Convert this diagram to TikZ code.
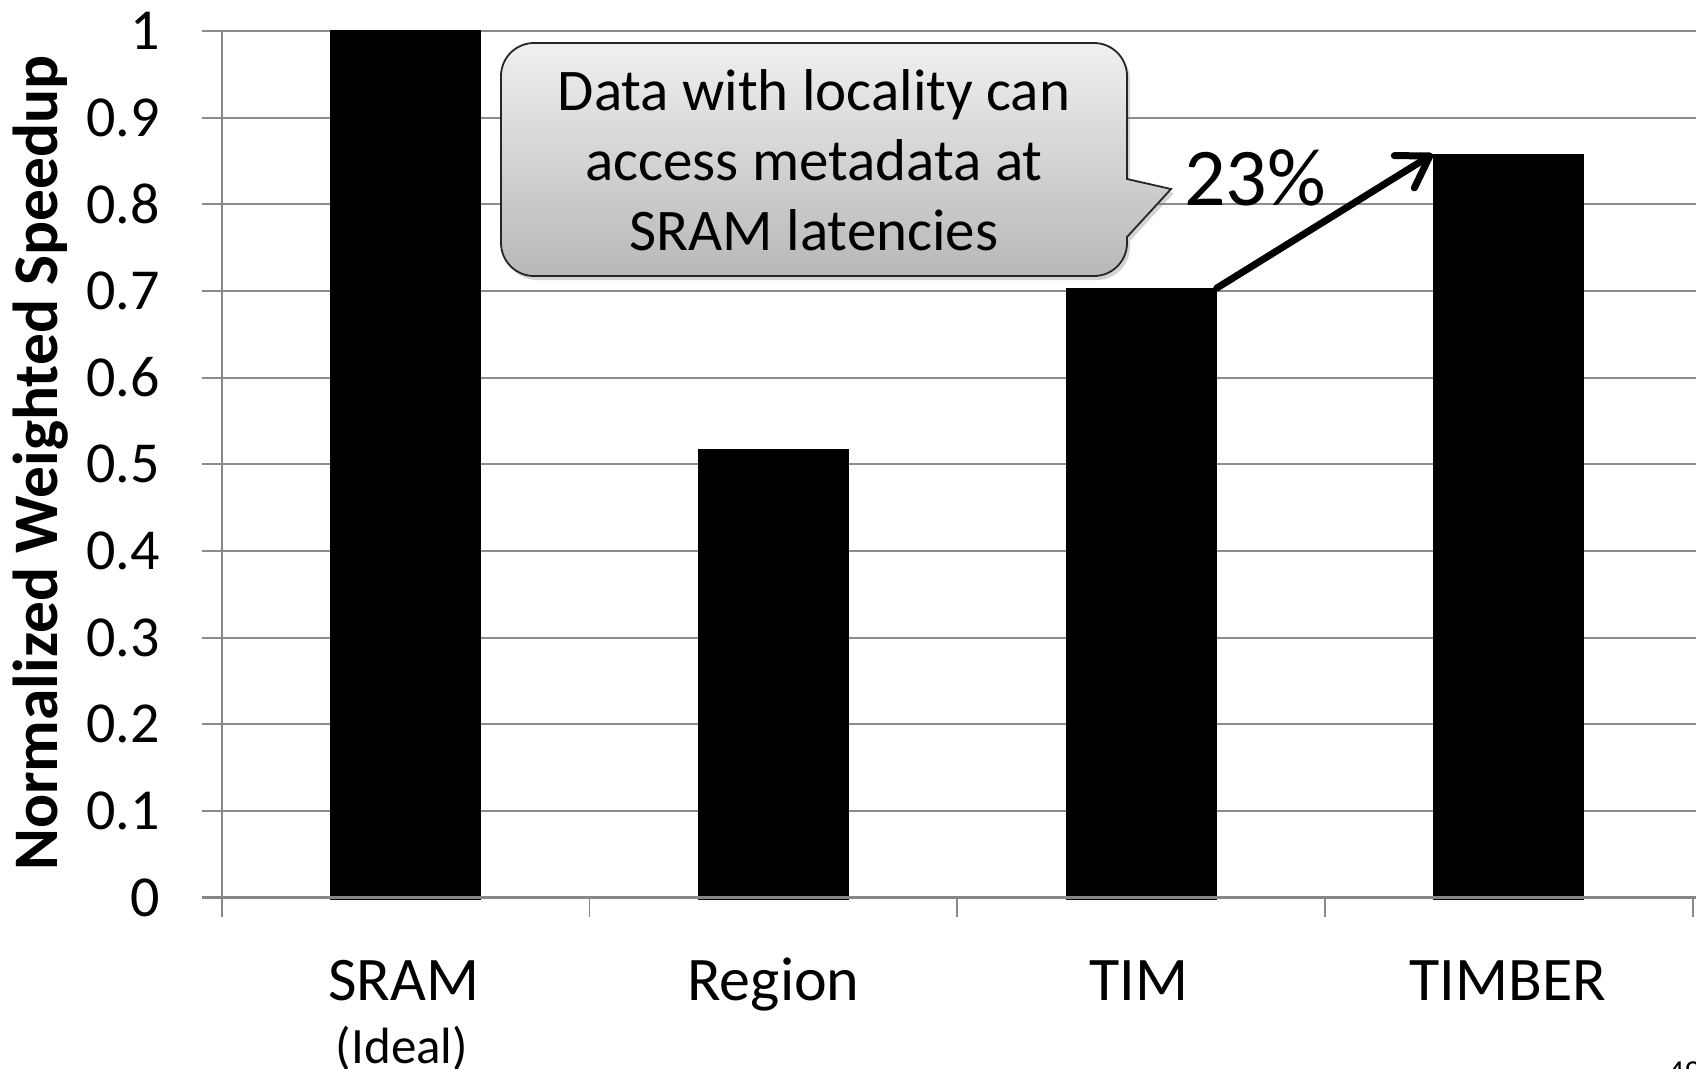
\documentclass[tikz,border=0pt]{standalone}
\usepackage{fontspec}
\setmainfont{Carlito}
\usetikzlibrary{arrows.meta,shadows}
\begin{document}
\begin{tikzpicture}[x=1pt,y=-1pt,
  gridline/.style={draw=black!45, line width=2pt},
  axisline/.style={draw=black!47, line width=2.4pt},
  ticklinestyle/.style={draw=black!47, line width=1.6pt},
  barbox/.style={fill=black, draw=none, inner sep=0pt, minimum width=151pt, anchor=south},
  ylab/.style={anchor=east, inner sep=0pt, font=\fontsize{58}{70}\selectfont},
  xlab/.style={anchor=base, inner sep=0pt, font=\fontsize{62}{74}\selectfont},
  callout/.style={draw=black!85, line width=1.8pt, top color=black!6, bottom color=black!28,
    drop shadow={shadow xshift=3pt, shadow yshift=-4pt, opacity=0.35}},
  callouttext/.style={align=center, inner sep=0pt, font=\fontsize{59}{70}\selectfont},
  growarrow/.style={line width=7pt, line cap=round, -{Straight Barb[length=30pt,width=38pt,round]}}
]
\useasboundingbox (0,0) rectangle (1696,1068);

% gridlines
\foreach \v in {1,...,10}
  \draw[gridline] (202,{897.5-86.65*\v}) -- (1696,{897.5-86.65*\v});

% y tick labels
\foreach \v/\t in {0/0,1/0.1,2/0.2,3/0.3,4/0.4,5/0.5,6/0.6,7/0.7,8/0.8,9/0.9,10/1}
  \node[ylab] (yl\v) at (160,{897.5-86.65*\v}) {\t};

% y axis title
\node[rotate=90, anchor=base, inner sep=0pt, font=\bfseries\fontsize{63.5}{70}\selectfont]
  (ytitle) at (57,463) {Normalized Weighted Speedup};

% bars
\node[barbox, minimum height=870pt] (bsram) at (405.6,900.5) {};
\node[barbox, minimum height=451.5pt] (bregion) at (773.4,900.5) {};
\node[barbox, minimum height=612pt] (btim) at (1141,900.5) {};
\node[barbox, minimum height=746pt] (btimber) at (1508.5,900.5) {};

% axes
\draw[axisline] (202,897.5) -- (1696,897.5);
\draw[axisline] (221.7,30.7) -- (221.7,917);
\foreach \x in {589.5,957.2,1325,1692.7}
  \draw[ticklinestyle] (\x,897.5) -- (\x,917);

% x labels
\node[xlab] (lsram) at (404,1000) {SRAM};
\node[xlab, font=\fontsize{51}{60}\selectfont] (lideal) at (402,1063) {(Ideal)};
\node[xlab] (lregion) at (773.4,1000) {Region};
\node[xlab] (ltim) at (1139,1000) {TIM};
\node[xlab] (ltimber) at (1508,1000) {TIMBER};

% callout
\draw[callout] (534,43) -- (1094,43) .. controls (1112.2,43) and (1127,57.8) .. (1127,76)
  -- (1127,179) -- (1171,189) -- (1127,237) -- (1127,243)
  .. controls (1127,261.2) and (1112.2,276) .. (1094,276)
  -- (534,276) .. controls (515.8,276) and (501,261.2) .. (501,243)
  -- (501,76) .. controls (501,57.8) and (515.8,43) .. (534,43) -- cycle;
\node[callouttext] (note) at (814,160) {Data with locality can\\access metadata at\\SRAM latencies};

% growth arrow and label
\draw[growarrow] (btim.north east) -- (btimber.north west);
\node[anchor=base west, inner sep=0pt, font=\fontsize{82}{90}\selectfont] (pct) at (1184,205) {23\%};

% page number (cut by the frame, as in the reference)
\node[anchor=base west, inner sep=0pt, font=\fontsize{32}{36}\selectfont] (pagenum) at (1668,1082) {49};
\end{tikzpicture}
\end{document}
